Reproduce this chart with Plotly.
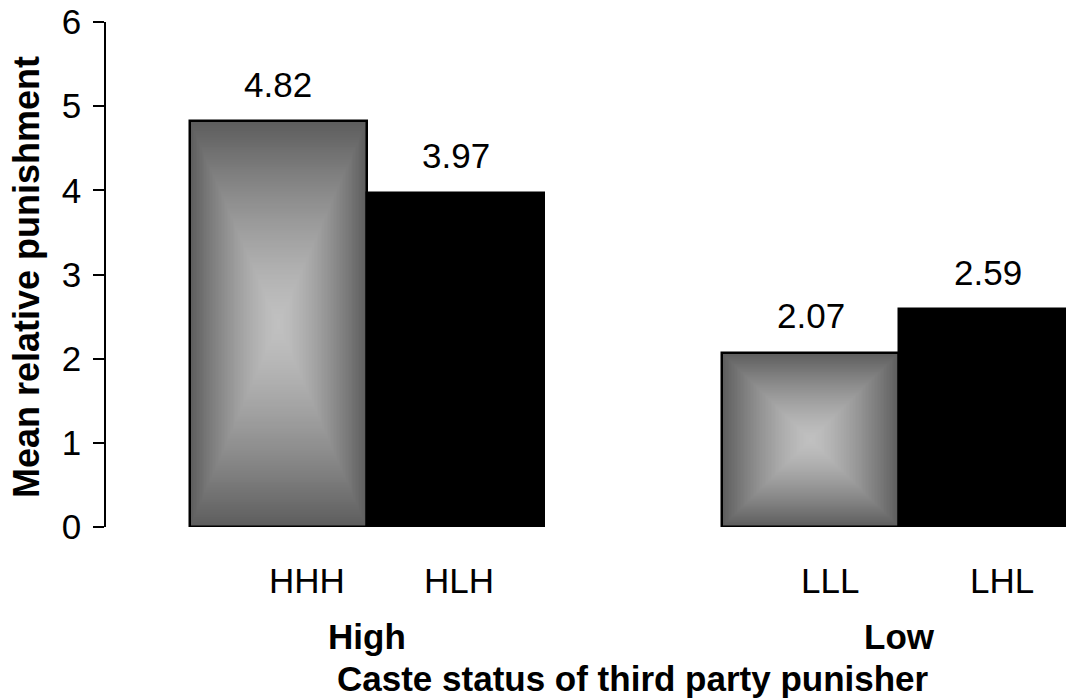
import numpy as np
import plotly.graph_objects as go

# Mean relative punishment by condition, grouped by caste status of the punisher
conditions = ["HHH", "HLH", "LLL", "LHL"]
mean_punishment = [4.82, 3.97, 2.07, 2.59]
value_labels = ["4.82", "3.97", "2.07", "2.59"]
groups = ["High", "Low"]
y_ticks = [0, 1, 2, 3, 4, 5, 6]

# layout helpers: bar slots (gap of one slot between groups), which bars get the shaded fill,
# small horizontal nudges for the condition labels
bar_pos = [0, 1, 3, 4]
shaded = [True, False, True, False]
label_nudge = [0.16, 0.02, 0.11, 0.08]
group_pos = [0.5, 3.5]

FONT = "Liberation Sans, Arial, sans-serif"
FS = 35

fig = go.Figure()

# rectangular "from centre" gradient inside the shaded bars
nx, ny = 120, 240
for pos, val, sh in zip(bar_pos, mean_punishment, shaded):
    if not sh:
        continue
    u = (np.arange(nx) + 0.5) / nx * 2 - 1
    v = (np.arange(ny) + 0.5) / ny * 2 - 1
    U, V = np.meshgrid(u, v)
    z = np.maximum(np.abs(U), np.abs(V)) ** 1.4
    xs = pos - 0.5 + (np.arange(nx) + 0.5) / nx
    ys = val * (np.arange(ny) + 0.5) / ny
    fig.add_trace(go.Heatmap(
        x=xs, y=ys, z=z, zmin=0, zmax=1,
        colorscale=[[0, "#c0c0c0"], [1, "#5c5c5c"]],
        showscale=False, hoverinfo="skip",
    ))

fig.add_trace(go.Bar(
    x=bar_pos, y=mean_punishment, width=1,
    marker=dict(
        color=["rgba(0,0,0,0)" if s else "#000000" for s in shaded],
        line=dict(color="#000000", width=2.5),
    ),
    hoverinfo="skip",
))

annotations = []
for pos, val, txt in zip(bar_pos, mean_punishment, value_labels):
    annotations.append(dict(
        x=pos, y=val, xref="x", yref="y", text=txt, showarrow=False,
        yanchor="middle", yshift=37, font=dict(family=FONT, size=FS, color="black"),
    ))

for pos, nudge, name in zip(bar_pos, label_nudge, conditions):
    annotations.append(dict(
        x=pos + nudge, y=-0.105, xref="x", yref="paper", text=name, showarrow=False,
        yanchor="middle", font=dict(family=FONT, size=FS, color="black"),
    ))

for gx, g in zip(group_pos, groups):
    annotations.append(dict(
        x=gx, y=-0.216, xref="x", yref="paper", text=f"<b>{g}</b>", showarrow=False,
        yanchor="middle", font=dict(family=FONT, size=FS, color="black"),
    ))

annotations.append(dict(
    x=2.0, y=-0.30, xref="x", yref="paper",
    text="<b>Caste status of third party punisher</b>", showarrow=False,
    yanchor="middle", font=dict(family=FONT, size=FS, color="black"),
))

annotations.append(dict(
    x=-0.0833, y=0.495, xref="paper", yref="paper",
    text="<b>Mean relative punishment</b>", showarrow=False, textangle=-90,
    xanchor="center", yanchor="middle", font=dict(family=FONT, size=36, color="black"),
))

fig.update_layout(
    width=1066, height=700,
    margin=dict(l=106, r=0, t=22, b=173),
    paper_bgcolor="white", plot_bgcolor="white",
    showlegend=False,
    bargap=0,
    annotations=annotations,
    xaxis=dict(range=[-0.972, 4.44], visible=False),
    yaxis=dict(
        range=[0, 6], tickvals=y_ticks, ticktext=[str(t) for t in y_ticks],
        ticks="outside", ticklen=11, tickwidth=1.5, tickcolor="black",
        showline=True, linecolor="black", linewidth=1.5,
        showgrid=False, zeroline=False,
        tickfont=dict(family=FONT, size=FS, color="black"),
        ticklabelstandoff=5,
    ),
)

fig.write_html("out.html")
